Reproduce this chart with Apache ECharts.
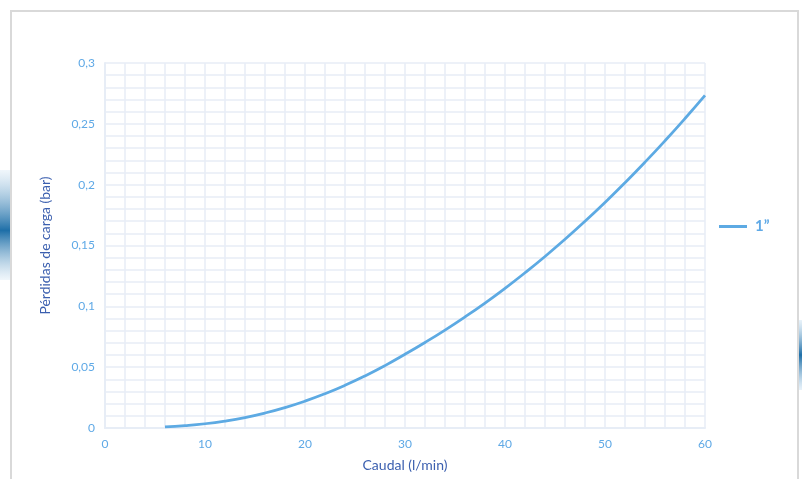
<!DOCTYPE html>
<html>
<head>
<meta charset="utf-8">
<script src="https://cdn.jsdelivr.net/npm/echarts@6/dist/echarts.min.js"></script>
<style>
html,body{margin:0;padding:0;background:#fff;}
#c{width:802px;height:479px;}
</style>
</head>
<body>
<div id="c"></div>
<script>
const seriesName = '1\u201D';
const caudal = [6, 8, 10, 12, 14, 16, 18, 20, 22, 24, 26, 28, 30, 32, 34, 36, 38, 40, 42, 44, 46, 48, 50, 52, 54, 56, 58, 60];
const perdidas = [0.001, 0.002, 0.0035, 0.0057, 0.0086, 0.0123, 0.0168, 0.0221, 0.0282, 0.0351, 0.0428, 0.0513, 0.0606, 0.0703, 0.0805, 0.0913, 0.1027, 0.1148, 0.1276, 0.1410, 0.1551, 0.1699, 0.1854, 0.2016, 0.2185, 0.2361, 0.2544, 0.2734];
const xTitle = 'Caudal (l/min)';
const yTitle = 'Pérdidas de carga (bar)';

const chart = echarts.init(document.getElementById('c'), null, {renderer: 'canvas'});
const font = 'Lato, "Open Sans", sans-serif';
const tickColor = '#5FA9E6';
const titleColor = '#3B5FAF';
const gridColor = '#E7EDF6';
const lineColor = '#5DAAE3';

chart.setOption({
  animation: false,
  backgroundColor: '#fff',
  textStyle: {fontFamily: font},
  graphic: [
    {type: 'rect', silent: true, shape: {x: 0, y: 170, width: 10, height: 110},
     style: {fill: new echarts.graphic.LinearGradient(0, 0, 0, 1, [
       {offset: 0, color: 'rgba(225,238,248,0.5)'},
       {offset: 0.55, color: '#1E6FA8'},
       {offset: 1, color: 'rgba(225,238,248,0.5)'}])}},
    {type: 'rect', silent: true, shape: {x: 799, y: 320, width: 3, height: 70},
     style: {fill: new echarts.graphic.LinearGradient(0, 0, 0, 1, [
       {offset: 0, color: 'rgba(210,230,245,0.5)'},
       {offset: 0.5, color: '#1E6FA8'},
       {offset: 1, color: 'rgba(210,230,245,0.5)'}])}},
    {type: 'rect', silent: true, shape: {x: 11, y: 11, width: 787, height: 480},
     style: {fill: 'none', stroke: '#D9D9D9', lineWidth: 2}}
  ],
  grid: {left: 105, right: 97, top: 63, bottom: 51, containLabel: false},
  legend: {
    left: 714, top: 214, orient: 'vertical',
    itemWidth: 28, itemHeight: 3, itemGap: 8,
    icon: 'path://M0,0 L28,0 L28,3 L0,3 Z',
    textStyle: {color: tickColor, fontSize: 15, fontWeight: 'bold', fontFamily: font, padding: [0, 0, 0, 3]},
    data: [seriesName]
  },
  xAxis: {
    type: 'value', min: 0, max: 60, interval: 10,
    name: xTitle, nameLocation: 'middle', nameGap: 30,
    nameTextStyle: {color: titleColor, fontSize: 14, fontFamily: font},
    axisLine: {show: true, lineStyle: {color: gridColor, width: 2}},
    axisTick: {show: false},
    axisLabel: {color: tickColor, fontSize: 12, margin: 10, fontFamily: font},
    splitLine: {show: true, lineStyle: {color: gridColor, width: 1.5}},
    minorTick: {show: false, splitNumber: 5},
    minorSplitLine: {show: true, lineStyle: {color: gridColor, width: 1.5}}
  },
  yAxis: {
    type: 'value', min: 0, max: 0.3, interval: 0.05,
    name: yTitle, nameLocation: 'middle', nameGap: 53,
    nameTextStyle: {color: titleColor, fontSize: 14, fontFamily: font},
    axisLine: {show: true, lineStyle: {color: gridColor, width: 2}},
    axisTick: {show: false},
    axisLabel: {color: tickColor, fontSize: 12, margin: 10, fontFamily: font,
      formatter: v => String(+v.toFixed(2)).replace('.', ',')},
    splitLine: {show: true, lineStyle: {color: gridColor, width: 1.5}},
    minorTick: {show: false, splitNumber: 5},
    minorSplitLine: {show: true, lineStyle: {color: gridColor, width: 1.5}}
  },
  series: [{
    name: seriesName, type: 'line', smooth: true, showSymbol: false,
    data: caudal.map((x, i) => [x, perdidas[i]]),
    lineStyle: {color: lineColor, width: 2.75},
    itemStyle: {color: lineColor}, z: 5
  }]
});
</script>
</body>
</html>
